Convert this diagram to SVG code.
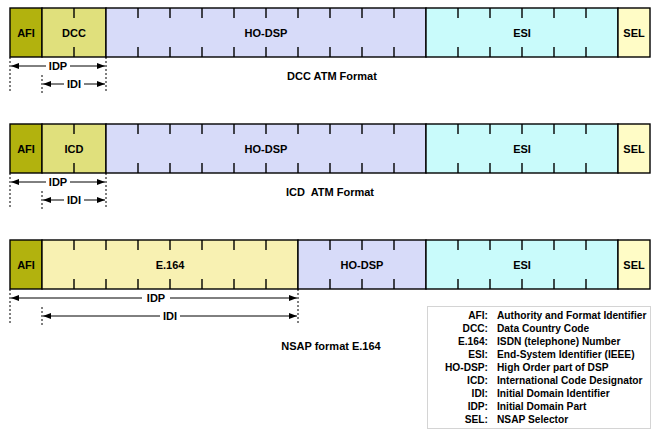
<svg xmlns="http://www.w3.org/2000/svg" width="660" height="440" viewBox="0 0 660 440">
<defs>
<style>
text{font-family:"Liberation Sans",Arial,sans-serif;font-weight:bold;font-size:11px;fill:#000}
#legend text{font-size:10.2px}
.f{stroke:#000;stroke-width:1.4}
.afi{fill:#b2b20e}.dcc{fill:#e0e07c}.ho{fill:#d7dbf9}.esi{fill:#c9fbfb}.sel{fill:#fffcc6}.e164{fill:#f8f1b2}
.tk{stroke:#000;stroke-width:1.4}
.dot{stroke:#000;stroke-width:1;stroke-dasharray:2,2}
.dim{stroke:#000;stroke-width:1;marker-start:url(#ar);marker-end:url(#ar)}
.lbl{fill:#fff}
.m{text-anchor:middle}
.e{text-anchor:end}
</style>
<marker id="ar" viewBox="0 0 8 6" refX="8" refY="3" markerWidth="8" markerHeight="6" markerUnits="userSpaceOnUse" orient="auto-start-reverse"><path d="M0,0 L8,3 L0,6 z" fill="#000"/></marker>
</defs>

<!-- Row 1: DCC ATM Format -->
<g id="row1">
<rect class="f afi" x="10" y="8" width="32" height="49"/>
<rect class="f dcc" x="42" y="8" width="64" height="49"/>
<rect class="f ho" x="106" y="8" width="320" height="49"/>
<rect class="f esi" x="426" y="8" width="192" height="49"/>
<rect class="f sel" x="618" y="8" width="32" height="49"/>
<path class="tk" d="M74,8v10M74,47v10M138,8v10M138,47v10M170,8v10M170,47v10M202,8v10M202,47v10M234,8v10M234,47v10M266,8v10M266,47v10M298,8v10M298,47v10M330,8v10M330,47v10M362,8v10M362,47v10M394,8v10M394,47v10M458,8v10M458,47v10M490,8v10M490,47v10M522,8v10M522,47v10M554,8v10M554,47v10M586,8v10M586,47v10"/>
<text class="m" x="26" y="37">AFI</text>
<text class="m" x="74" y="37">DCC</text>
<text class="m" x="266" y="37">HO-DSP</text>
<text class="m" x="522" y="37">ESI</text>
<text class="m" x="634" y="37">SEL</text>
<text class="m" x="332" y="80">DCC ATM Format</text>
</g>

<!-- Row 2: ICD ATM Format -->
<g id="row2">
<rect class="f afi" x="10" y="124" width="32" height="49"/>
<rect class="f dcc" x="42" y="124" width="64" height="49"/>
<rect class="f ho" x="106" y="124" width="320" height="49"/>
<rect class="f esi" x="426" y="124" width="192" height="49"/>
<rect class="f sel" x="618" y="124" width="32" height="49"/>
<path class="tk" d="M74,124v10M74,163v10M138,124v10M138,163v10M170,124v10M170,163v10M202,124v10M202,163v10M234,124v10M234,163v10M266,124v10M266,163v10M298,124v10M298,163v10M330,124v10M330,163v10M362,124v10M362,163v10M394,124v10M394,163v10M458,124v10M458,163v10M490,124v10M490,163v10M522,124v10M522,163v10M554,124v10M554,163v10M586,124v10M586,163v10"/>
<text class="m" x="26" y="153">AFI</text>
<text class="m" x="74" y="153">ICD</text>
<text class="m" x="266" y="153">HO-DSP</text>
<text class="m" x="522" y="153">ESI</text>
<text class="m" x="634" y="153">SEL</text>
<text class="m" x="330" y="196" xml:space="preserve">ICD  ATM Format</text>
</g>

<!-- Row 3: NSAP format E.164 -->
<g id="row3">
<rect class="f afi" x="10" y="240" width="32" height="49"/>
<rect class="f e164" x="42" y="240" width="256" height="49"/>
<rect class="f ho" x="298" y="240" width="128" height="49"/>
<rect class="f esi" x="426" y="240" width="192" height="49"/>
<rect class="f sel" x="618" y="240" width="32" height="49"/>
<path class="tk" d="M74,240v10M74,279v10M106,240v10M106,279v10M138,240v10M138,279v10M170,240v10M170,279v10M202,240v10M202,279v10M234,240v10M234,279v10M266,240v10M266,279v10M330,240v10M330,279v10M362,240v10M362,279v10M394,240v10M394,279v10M458,240v10M458,279v10M490,240v10M490,279v10M522,240v10M522,279v10M554,240v10M554,279v10M586,240v10M586,279v10"/>
<text class="m" x="26" y="269">AFI</text>
<text class="m" x="170" y="269">E.164</text>
<text class="m" x="362" y="269">HO-DSP</text>
<text class="m" x="522" y="269">ESI</text>
<text class="m" x="634" y="269">SEL</text>
<text class="m" x="331" y="350">NSAP format E.164</text>
</g>

<!-- Dimension connectors -->
<g id="connectors">
<path class="dot" d="M10,57V93M42,75V93M106,57V93"/>
<line class="dim" x1="11" y1="66" x2="105" y2="66"/>
<line class="dim" x1="43" y1="84" x2="105" y2="84"/>
<path class="dot" d="M10,173V209M42,191V209M106,173V209"/>
<line class="dim" x1="11" y1="182" x2="105" y2="182"/>
<line class="dim" x1="43" y1="200" x2="105" y2="200"/>
<path class="dot" d="M10,289V325M42,307V325M298,289V325"/>
<line class="dim" x1="11" y1="298" x2="297" y2="298"/>
<line class="dim" x1="43" y1="316" x2="297" y2="316"/>
</g>
<g id="dimlabels">
<rect class="lbl" x="46" y="60" width="24" height="12"/><text class="m" x="58" y="70">IDP</text>
<rect class="lbl" x="64" y="78" width="20" height="12"/><text class="m" x="74" y="88">IDI</text>
<rect class="lbl" x="46" y="176" width="24" height="12"/><text class="m" x="58" y="186">IDP</text>
<rect class="lbl" x="64" y="194" width="20" height="12"/><text class="m" x="74" y="204">IDI</text>
<rect class="lbl" x="142" y="292" width="28" height="12"/><text class="m" x="156" y="302">IDP</text>
<rect class="lbl" x="160" y="310" width="20" height="12"/><text class="m" x="170" y="320">IDI</text>
</g>

<!-- Legend -->
<g id="legend">
<rect x="427.5" y="306.5" width="223" height="122" fill="#fff" stroke="#a8a8a8" stroke-width="1" stroke-dasharray="1,1"/>
<text class="e" x="488" y="319">AFI:</text><text x="497" y="319">Authority and Format Identifier</text>
<text class="e" x="488" y="332">DCC:</text><text x="497" y="332">Data Country Code</text>
<text class="e" x="488" y="345">E.164:</text><text x="497" y="345">ISDN (telephone) Number</text>
<text class="e" x="488" y="358">ESI:</text><text x="497" y="358">End-System Identifier (IEEE)</text>
<text class="e" x="488" y="371">HO-DSP:</text><text x="497" y="371">High Order part of DSP</text>
<text class="e" x="488" y="384">ICD:</text><text x="497" y="384">International Code Designator</text>
<text class="e" x="488" y="397">IDI:</text><text x="497" y="397">Initial Domain Identifier</text>
<text class="e" x="488" y="410">IDP:</text><text x="497" y="410">Initial Domain Part</text>
<text class="e" x="488" y="423">SEL:</text><text x="497" y="423">NSAP Selector</text>
</g>
</svg>
